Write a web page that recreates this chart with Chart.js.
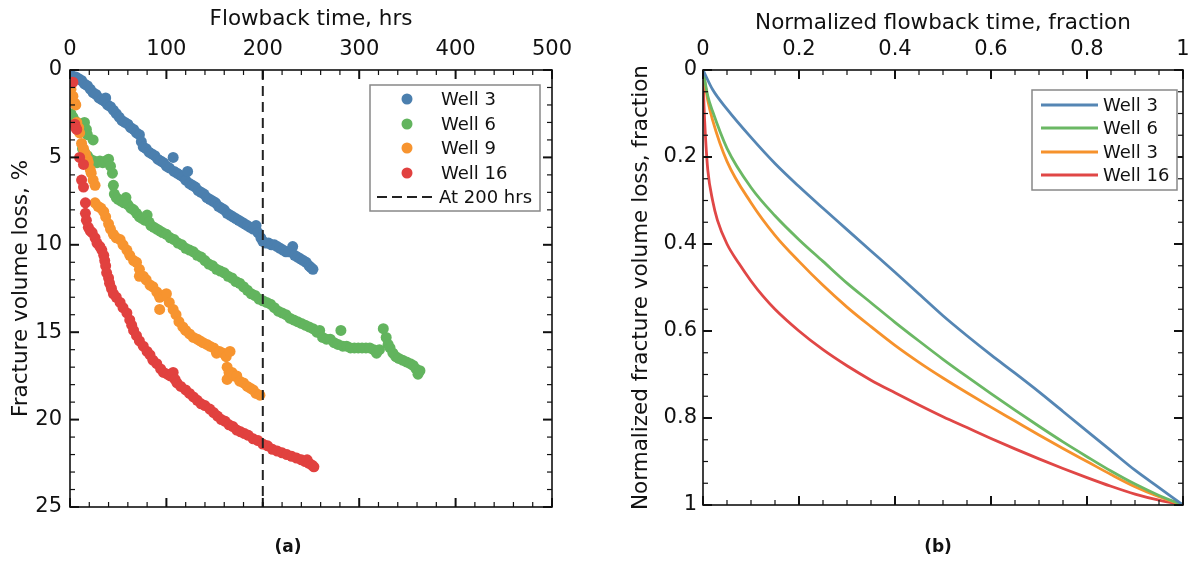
<!DOCTYPE html>
<html>
<head>
<meta charset="utf-8">
<script src="https://cdn.jsdelivr.net/npm/chart.js@4.4.1/dist/chart.umd.min.js"></script>
<style>
  body { margin: 0; background: #fff; }
  #wrap { position: relative; width: 1191px; height: 561px; font-family: "DejaVu Sans", Verdana, sans-serif; }
  canvas { position: absolute; top: 0; }
  #leftChart { left: 0; }
  #rightChart { left: 595px; }
  .cap { position: absolute; top: 536px; font-weight: bold; font-size: 17px; color: #111; transform: translateX(-50%); }
</style>
</head>
<body>
<div id="wrap">
  <canvas id="leftChart" width="595" height="561"></canvas>
  <canvas id="rightChart" width="596" height="561"></canvas>
  <div class="cap" style="left:288px">(a)</div>
  <div class="cap" style="left:938px">(b)</div>
</div>
<script>
// (a) fracture volume loss vs flowback time, [hours, loss %]
const well3 = [[1,0.3],[3,0.4],[6,0.4],[9,0.5],[12,0.6],[15,0.8],[18,0.9],[21,1.1],[24,1.3],[27,1.4],[30,1.6],[33,1.7],[36,1.8],[37,1.6],[39,2.0],[42,2.1],[45,2.3],[48,2.5],[51,2.7],[54,2.9],[57,3.0],[60,3.1],[63,3.3],[66,3.4],[69,3.6],[72,3.7],[74,4.1],[76,4.4],[79,4.5],[82,4.7],[85,4.8],[88,4.9],[91,5.1],[94,5.2],[97,5.3],[100,5.5],[103,5.6],[107,5.0],[108,5.8],[111,5.9],[114,6.0],[117,6.1],[120,6.3],[122,5.8],[124,6.5],[127,6.6],[130,6.7],[133,6.9],[136,7.0],[139,7.1],[142,7.3],[145,7.4],[148,7.5],[151,7.6],[154,7.8],[157,7.9],[160,8.0],[163,8.2],[166,8.3],[169,8.4],[172,8.5],[175,8.6],[178,8.7],[181,8.8],[184,8.9],[187,9.0],[190,9.1],[193,8.9],[195,9.3],[198,9.6],[200,9.8],[203,9.9],[206,9.9],[209,10.0],[212,10.0],[215,10.1],[218,10.2],[221,10.3],[224,10.4],[227,10.4],[231,10.1],[233,10.6],[236,10.7],[239,10.8],[242,10.9],[245,11.0],[248,11.2],[250,11.3],[252,11.4]];
const well6 = [[1,2.5],[3,2.7],[5,2.9],[7,3.0],[9,3.2],[11,3.4],[13,3.1],[15,3.0],[17,3.4],[18,3.7],[13,4.5],[15,4.7],[18,4.9],[21,5.1],[24,4.0],[25,5.2],[28,5.3],[31,5.2],[34,5.3],[37,5.2],[40,5.1],[42,5.5],[44,5.9],[45,6.6],[46,7.1],[48,7.3],[50,7.4],[53,7.5],[56,7.6],[58,7.3],[60,7.7],[63,7.9],[66,8.0],[69,8.2],[72,8.4],[75,8.5],[78,8.6],[80,8.3],[82,8.7],[84,8.9],[87,9.0],[90,9.1],[93,9.2],[96,9.3],[100,9.4],[104,9.6],[108,9.7],[112,9.9],[116,10.0],[120,10.2],[124,10.3],[128,10.4],[132,10.6],[136,10.7],[140,10.9],[144,11.1],[148,11.2],[152,11.4],[156,11.5],[160,11.6],[164,11.8],[168,11.9],[172,12.1],[176,12.2],[180,12.4],[184,12.6],[188,12.8],[192,12.9],[196,13.1],[200,13.2],[204,13.3],[208,13.4],[212,13.6],[216,13.8],[220,13.9],[224,14.0],[228,14.2],[232,14.3],[236,14.4],[240,14.5],[244,14.6],[248,14.7],[252,14.8],[256,15.0],[259,14.9],[262,15.3],[266,15.4],[270,15.4],[274,15.6],[278,15.7],[281,14.9],[283,15.8],[287,15.8],[291,15.9],[295,15.9],[299,15.9],[303,15.9],[307,15.9],[311,15.9],[315,16.0],[318,16.2],[321,16.0],[325,14.8],[328,15.3],[330,15.7],[332,15.9],[335,16.2],[338,16.4],[341,16.5],[345,16.6],[349,16.7],[353,16.8],[356,16.9],[359,17.1],[361,17.4],[363,17.2]];
const well9 = [[1,1.1],[3,1.5],[5,1.9],[6,2.0],[7,3.0],[9,3.3],[10,3.6],[12,4.2],[14,4.5],[16,4.8],[18,5.1],[19,5.3],[21,5.7],[22,5.9],[24,6.3],[26,6.6],[26,7.6],[29,7.8],[32,7.9],[35,8.1],[37,8.4],[40,8.8],[42,9.1],[45,9.4],[48,9.6],[52,9.7],[55,10.0],[59,10.3],[62,10.6],[66,10.9],[69,11.0],[72,11.4],[72,11.8],[76,11.8],[79,12.0],[83,12.3],[86,12.4],[90,12.7],[93,13.0],[93,13.7],[97,12.9],[100,12.8],[103,13.3],[107,13.7],[110,14.0],[113,14.4],[117,14.7],[120,14.9],[124,15.1],[128,15.3],[132,15.4],[135,15.5],[138,15.6],[142,15.7],[145,15.8],[149,15.9],[152,16.2],[155,16.1],[159,16.2],[162,16.4],[166,16.1],[163,17.0],[165,17.3],[163,17.7],[168,17.3],[170,17.5],[173,17.5],[176,17.8],[180,17.9],[184,18.1],[187,18.2],[190,18.3],[193,18.5],[197,18.6]];
const well16 = [[3,0.7],[5,3.1],[6,3.3],[7,3.4],[10,5.0],[14,5.4],[12,6.3],[14,6.7],[16,7.6],[16,8.2],[17,8.6],[19,9.0],[21,9.2],[23,9.3],[26,9.6],[28,9.9],[31,10.1],[33,10.3],[35,10.6],[36,10.9],[37,11.2],[38,11.6],[40,11.9],[41,12.2],[43,12.5],[45,12.8],[48,13.0],[52,13.3],[55,13.6],[59,13.9],[62,14.3],[64,14.6],[66,14.9],[69,15.2],[72,15.5],[76,15.8],[80,16.1],[83,16.3],[86,16.6],[90,16.8],[94,17.1],[97,17.3],[101,17.4],[104,17.5],[107,17.3],[109,17.7],[111,17.9],[115,18.1],[120,18.3],[124,18.5],[128,18.7],[132,18.9],[136,19.1],[140,19.2],[145,19.4],[149,19.6],[153,19.8],[157,20.0],[161,20.1],[165,20.3],[169,20.4],[173,20.6],[177,20.7],[181,20.8],[185,20.9],[190,21.1],[195,21.2],[200,21.4],[205,21.5],[210,21.7],[215,21.8],[220,21.9],[225,22.0],[230,22.1],[235,22.2],[240,22.3],[244,22.4],[246,22.3],[248,22.5],[251,22.6],[253,22.7]];
const markerHours = 200;

// (b) normalized curves, [time fraction, loss fraction]
const norm3 = [[0,0],[0.02,0.045],[0.05,0.09],[0.1,0.155],[0.15,0.215],[0.2,0.268],[0.25,0.318],[0.3,0.367],[0.35,0.416],[0.4,0.465],[0.45,0.515],[0.5,0.565],[0.55,0.611],[0.6,0.655],[0.65,0.697],[0.7,0.74],[0.75,0.785],[0.8,0.83],[0.85,0.875],[0.9,0.92],[0.95,0.96],[1,1]];
const norm6 = [[0,0],[0.01,0.06],[0.02,0.095],[0.05,0.18],[0.1,0.27],[0.15,0.335],[0.2,0.39],[0.25,0.44],[0.3,0.49],[0.35,0.535],[0.4,0.58],[0.45,0.623],[0.5,0.665],[0.55,0.705],[0.6,0.744],[0.65,0.782],[0.7,0.819],[0.75,0.855],[0.8,0.889],[0.85,0.922],[0.9,0.952],[0.95,0.978],[1,1]];
const norm9 = [[0,0],[0.01,0.07],[0.02,0.115],[0.05,0.21],[0.1,0.305],[0.15,0.38],[0.2,0.44],[0.25,0.495],[0.3,0.545],[0.35,0.59],[0.4,0.633],[0.45,0.672],[0.5,0.708],[0.55,0.742],[0.6,0.775],[0.65,0.807],[0.7,0.839],[0.75,0.87],[0.8,0.9],[0.85,0.93],[0.9,0.958],[0.95,0.981],[1,1]];
const norm16 = [[0,0],[0.002,0.08],[0.005,0.15],[0.01,0.23],[0.02,0.3],[0.03,0.345],[0.05,0.4],[0.075,0.445],[0.1,0.485],[0.125,0.52],[0.15,0.55],[0.2,0.6],[0.25,0.643],[0.3,0.68],[0.35,0.713],[0.4,0.742],[0.45,0.77],[0.5,0.797],[0.55,0.822],[0.6,0.847],[0.65,0.871],[0.7,0.894],[0.75,0.916],[0.8,0.937],[0.85,0.957],[0.9,0.975],[0.95,0.989],[1,1]];

const FONT = "'DejaVu Sans', Verdana, sans-serif";
Chart.defaults.font.family = FONT;
Chart.defaults.color = '#111';

const toXY = arr => arr.map(p => ({ x: p[0], y: p[1] }));
const plainNum = v => String(+v.toFixed(2));

// inward ticks on all four sides plus the frame
const frameTicks = {
  id: 'frameTicks',
  afterDatasetsDraw(chart, args, o) {
    const { ctx, chartArea: a } = chart;
    const { x, y } = chart.scales;
    ctx.save();
    ctx.strokeStyle = '#111';
    const seg = (x1, y1, x2, y2, w) => {
      ctx.lineWidth = w; ctx.beginPath(); ctx.moveTo(x1, y1); ctx.lineTo(x2, y2); ctx.stroke();
    };
    const each = (scale, major, minor, fn) => {
      const n = Math.round((scale.max - scale.min) / minor);
      for (let i = 0; i <= n; i++) {
        const v = scale.min + i * minor;
        const r = v / major;
        fn(scale.getPixelForValue(v), Math.abs(r - Math.round(r)) < 1e-6);
      }
    };
    each(x, o.xMajor, o.xMinor, (px, big) => {
      const len = big ? 9 : 5, w = big ? 2 : 1.2;
      seg(px, a.top, px, a.top + len, w);
      seg(px, a.bottom, px, a.bottom - len, w);
    });
    each(y, o.yMajor, o.yMinor, (py, big) => {
      const len = big ? 9 : 5, w = big ? 2 : 1.2;
      seg(a.left, py, a.left + len, py, w);
      seg(a.right, py, a.right - len, py, w);
    });
    ctx.lineWidth = 1.6;
    ctx.strokeRect(a.left, a.top, a.right - a.left, a.bottom - a.top);
    ctx.restore();
  }
};

// legend box drawn inside the plot
const boxLegend = {
  id: 'boxLegend',
  afterDraw(chart, args, o) {
    const ctx = chart.ctx;
    ctx.save();
    ctx.fillStyle = '#fff';
    ctx.fillRect(o.x, o.y, o.w, o.h);
    ctx.strokeStyle = '#888';
    ctx.lineWidth = 1.5;
    ctx.strokeRect(o.x, o.y, o.w, o.h);
    ctx.font = '18px ' + FONT;
    ctx.textBaseline = 'middle';
    o.items.forEach((it, i) => {
      const yy = o.rows[i];
      if (it.kind === 'dot') {
        ctx.fillStyle = it.color;
        ctx.beginPath(); ctx.arc(o.markX, yy, 5.5, 0, Math.PI * 2); ctx.fill();
      } else {
        ctx.strokeStyle = it.color;
        ctx.lineWidth = it.kind === 'dash' ? 2 : 2.8;
        ctx.setLineDash(it.kind === 'dash' ? [10, 5] : []);
        ctx.beginPath(); ctx.moveTo(o.lineX1, yy); ctx.lineTo(o.lineX2, yy); ctx.stroke();
        ctx.setLineDash([]);
      }
      ctx.fillStyle = '#111';
      ctx.fillText(it.label, it.kind === 'dash' ? o.dashTextX : o.textX, yy + 1);
    });
    ctx.restore();
  }
};

const tickFont = { size: 21 };
const titleFont = { size: 21.5 };
// fixed box sizes so the plot frames land where the reference has them
const fitX = s => { s.height = 70; s.paddingLeft = 0; s.paddingRight = 0; };
const fitY = w => s => { s.width = w; s.paddingTop = 0; s.paddingBottom = 0; };

new Chart(document.getElementById('leftChart'), {
  type: 'scatter',
  data: {
    datasets: [
      { label: 'At 200 hrs', type: 'line', data: [{ x: markerHours, y: 0 }, { x: markerHours, y: 25 }],
        borderColor: '#222', borderWidth: 2, borderDash: [10, 6], pointRadius: 0, order: 0 },
      { label: 'Well 3', data: toXY(well3), backgroundColor: '#4b7fae', order: 4 },
      { label: 'Well 6', data: toXY(well6), backgroundColor: '#62b45e', order: 3 },
      { label: 'Well 9', data: toXY(well9), backgroundColor: '#f7942f', order: 2 },
      { label: 'Well 16', data: toXY(well16), backgroundColor: '#e1413f', order: 1 }
    ]
  },
  options: {
    responsive: false,
    animation: false,
    elements: { point: { radius: 5.5, borderWidth: 0, hoverRadius: 5.5 } },
    layout: { padding: { left: 0, right: 43, top: 0, bottom: 54 } },
    scales: {
      x: {
        type: 'linear', position: 'top', min: 0, max: 500,
        ticks: { stepSize: 100, font: tickFont, padding: 8 },
        grid: { display: false, drawTicks: false }, border: { display: false },
        title: { display: true, text: 'Flowback time, hrs', font: titleFont, padding: { top: 7, bottom: 0 } },
        afterFit: fitX
      },
      y: {
        type: 'linear', reverse: true, min: 0, max: 25,
        ticks: { stepSize: 5, font: tickFont, padding: 8 },
        grid: { display: false, drawTicks: false }, border: { display: false },
        title: { display: true, text: 'Fracture volume loss, %', font: titleFont, padding: { top: 9, bottom: 0 } },
        afterFit: fitY(70)
      }
    },
    plugins: {
      legend: { display: false },
      tooltip: { enabled: false },
      frameTicks: { xMajor: 100, xMinor: 20, yMajor: 5, yMinor: 1 },
      boxLegend: {
        x: 370, y: 85, w: 170, h: 126, markX: 407, textX: 441, lineX1: 377, lineX2: 435, dashTextX: 439,
        rows: [99, 124, 148, 173, 197],
        items: [
          { label: 'Well 3', color: '#4b7fae', kind: 'dot' },
          { label: 'Well 6', color: '#62b45e', kind: 'dot' },
          { label: 'Well 9', color: '#f7942f', kind: 'dot' },
          { label: 'Well 16', color: '#e1413f', kind: 'dot' },
          { label: 'At 200 hrs', color: '#222', kind: 'dash' }
        ]
      }
    }
  },
  plugins: [frameTicks, boxLegend]
});

const lineSet = (label, arr, color) => ({
  label, data: toXY(arr), showLine: true, borderColor: color, borderWidth: 2.8,
  pointRadius: 0, cubicInterpolationMode: 'monotone'
});

new Chart(document.getElementById('rightChart'), {
  type: 'scatter',
  data: {
    datasets: [
      lineSet('Well 3', norm3, '#5586b4'),
      lineSet('Well 6', norm6, '#6bb864'),
      lineSet('Well 3', norm9, '#f6922c'),
      lineSet('Well 16', norm16, '#e04746')
    ]
  },
  options: {
    responsive: false,
    animation: false,
    layout: { padding: { left: 0, right: 8, top: 0, bottom: 56 } },
    scales: {
      x: {
        type: 'linear', position: 'top', min: 0, max: 1,
        ticks: { stepSize: 0.2, font: tickFont, padding: 8, callback: plainNum },
        grid: { display: false, drawTicks: false }, border: { display: false },
        title: { display: true, text: 'Normalized flowback time, fraction', font: titleFont, padding: { top: 11, bottom: 0 } },
        afterFit: fitX
      },
      y: {
        type: 'linear', reverse: true, min: 0, max: 1,
        ticks: { stepSize: 0.2, font: tickFont, padding: 6, callback: plainNum },
        grid: { display: false, drawTicks: false }, border: { display: false },
        title: { display: true, text: 'Normalized fracture volume loss, fraction', font: titleFont, padding: { top: 34, bottom: 0 } },
        afterFit: fitY(108)
      }
    },
    plugins: {
      legend: { display: false },
      tooltip: { enabled: false },
      frameTicks: { xMajor: 0.2, xMinor: 0.05, yMajor: 0.2, yMinor: 0.05 },
      boxLegend: {
        x: 437, y: 90, w: 145, h: 100, markX: 0, textX: 508, lineX1: 446, lineX2: 503, dashTextX: 508,
        rows: [105, 128, 152, 175],
        items: [
          { label: 'Well 3', color: '#5586b4', kind: 'line' },
          { label: 'Well 6', color: '#6bb864', kind: 'line' },
          { label: 'Well 3', color: '#f6922c', kind: 'line' },
          { label: 'Well 16', color: '#e04746', kind: 'line' }
        ]
      }
    }
  },
  plugins: [frameTicks, boxLegend]
});
</script>
</body>
</html>
